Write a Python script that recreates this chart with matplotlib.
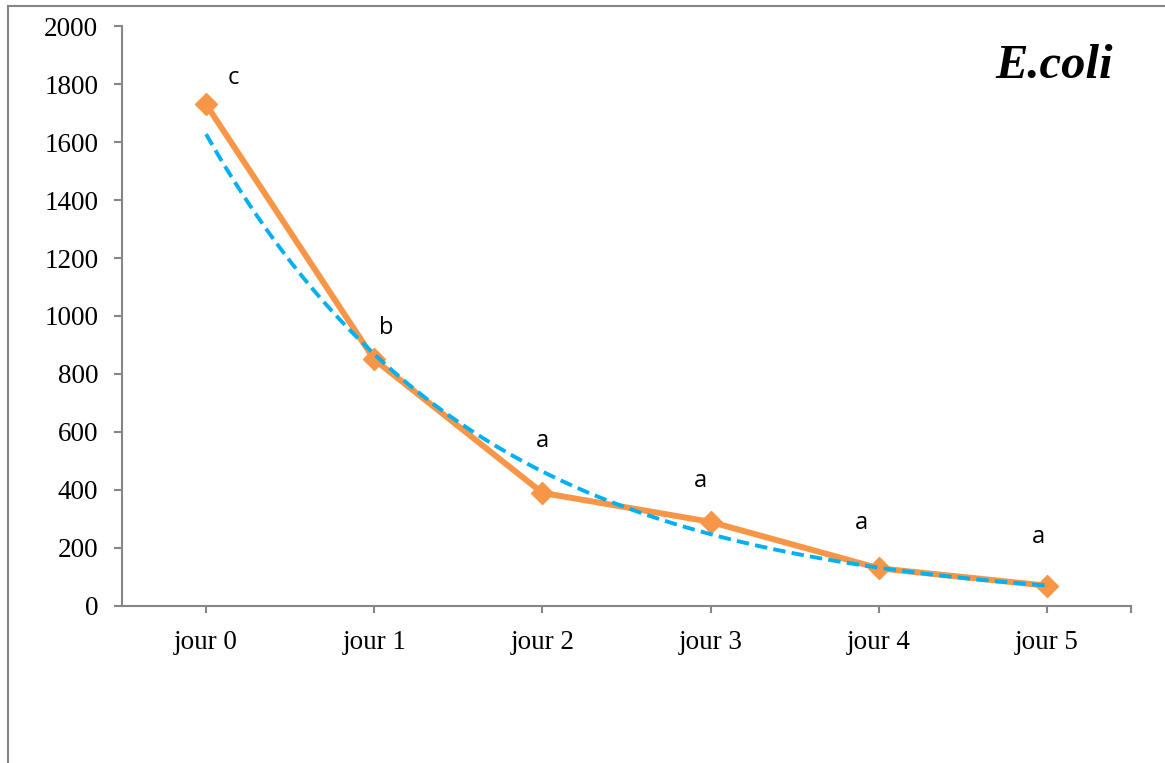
import matplotlib.pyplot as plt
import numpy as np
from matplotlib.lines import Line2D

days = ["jour 0", "jour 1", "jour 2", "jour 3", "jour 4", "jour 5"]
counts = [1730, 850, 390, 290, 130, 70]
letters = ["c", "b", "a", "a", "a", "a"]
letter_x = [0.16, 0.07, 0.0, -0.06, -0.1, -0.05]
letter_y = [1820, 960, 570, 430, 285, 238]

orange = "#F79646"
blue = "#00B0F0"
grey = "#868686"

fig = plt.figure(figsize=(11.65, 7.63), dpi=100)
ax = fig.add_axes([0.1047, 0.2058, 0.8661, 0.7601])

x = np.arange(len(days))

# exponential trendline (fit on the data, like Excel)
b, a = np.polyfit(x, np.log(counts), 1)
xs = np.linspace(0, len(days) - 1, 200)
ax.plot(xs, np.exp(a + b * xs), color=blue, lw=2.8, ls=(0, (3.2, 1.6)), zorder=3)

ax.plot(x, counts, color=orange, lw=4.3, marker="D", markersize=11, zorder=2)

for xi, dx, dy, t in zip(x, letter_x, letter_y, letters):
    ax.text(xi + dx, dy, t, ha="center", va="center", fontsize=17,
            family="Open Sans", color="black")

ax.text(0.982, 0.931, "E.coli", transform=ax.transAxes, ha="right", va="center",
        fontsize=35, family="Liberation Serif", style="italic", weight="bold")

ax.set_xlim(-0.5, 5.5)
ax.set_ylim(0, 2000)
ax.set_yticks(range(0, 2001, 200))
ax.set_xticks(list(x) + [5.5])
ax.set_xticklabels(days + [""])
for s in ["top", "right"]:
    ax.spines[s].set_visible(False)
for s in ["left", "bottom"]:
    ax.spines[s].set_color(grey)
    ax.spines[s].set_linewidth(1.5)
ax.tick_params(axis="y", length=6, width=1.5, color=grey, labelsize=19.5, pad=11)
ax.tick_params(axis="x", length=5, width=1.5, color=grey, labelsize=19.5, pad=12)
for lab in ax.get_xticklabels() + ax.get_yticklabels():
    lab.set_family("Liberation Serif")

# outer frame
fig.add_artist(Line2D([8 / 1165, 8 / 1165], [0, 1 - 6 / 763], color=grey, lw=1.5,
                      transform=fig.transFigure))
fig.add_artist(Line2D([8 / 1165, 1], [1 - 6 / 763, 1 - 6 / 763], color=grey, lw=1.5,
                      transform=fig.transFigure))

fig.savefig("out.png", dpi=100)
